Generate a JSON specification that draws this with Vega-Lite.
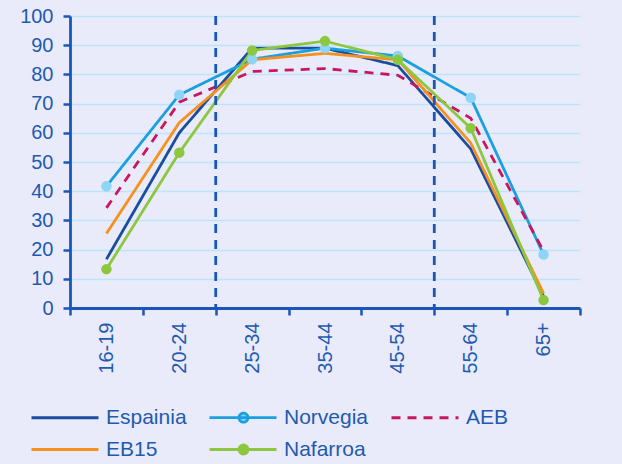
{
  "$schema": "https://vega.github.io/schema/vega-lite/v6.json",
  "width": 510,
  "height": 292,
  "autosize": {"type": "none"},
  "padding": {"left": 70, "top": 16, "right": 42, "bottom": 156},
  "background": "#e9ebfb",
  "config": {
    "view": {"stroke": null},
    "font": "Liberation Sans",
    "axis": {
      "labelFont": "Liberation Sans", "labelFontSize": 20, "labelColor": "#1f5aaf",
      "tickSize": 7, "tickWidth": 2.5, "tickColor": "#1a56b8", "domainColor": "#1a56b8", "domainWidth": 2.8,
      "title": null
    },
    "axisX": {"tickBand": "extent", "labelAngle": -90, "labelPadding": 7, "grid": false},
    "axisY": {"tickCount": 10, "labelOverlap": false, "labelPadding": 10, "grid": true, "gridColor": "#bde5f7", "gridWidth": 1.3}
  },
  "datasets": {
    "series": [
      {"age": "16-19", "series": "Espainia", "value": 16.7},
      {"age": "20-24", "series": "Espainia", "value": 60},
      {"age": "25-34", "series": "Espainia", "value": 89},
      {"age": "35-44", "series": "Espainia", "value": 89},
      {"age": "45-54", "series": "Espainia", "value": 83},
      {"age": "55-64", "series": "Espainia", "value": 54.5},
      {"age": "65+", "series": "Espainia", "value": 4},
      {"age": "16-19", "series": "Norvegia", "value": 41.7},
      {"age": "20-24", "series": "Norvegia", "value": 73},
      {"age": "25-34", "series": "Norvegia", "value": 85.2},
      {"age": "35-44", "series": "Norvegia", "value": 89},
      {"age": "45-54", "series": "Norvegia", "value": 86.3},
      {"age": "55-64", "series": "Norvegia", "value": 72},
      {"age": "65+", "series": "Norvegia", "value": 18.3},
      {"age": "16-19", "series": "AEB", "value": 34.3},
      {"age": "20-24", "series": "AEB", "value": 70.5},
      {"age": "25-34", "series": "AEB", "value": 81},
      {"age": "35-44", "series": "AEB", "value": 82},
      {"age": "45-54", "series": "AEB", "value": 79.7},
      {"age": "55-64", "series": "AEB", "value": 65},
      {"age": "65+", "series": "AEB", "value": 19.5},
      {"age": "16-19", "series": "EB15", "value": 25.5},
      {"age": "20-24", "series": "EB15", "value": 63.5},
      {"age": "25-34", "series": "EB15", "value": 85},
      {"age": "35-44", "series": "EB15", "value": 87.2},
      {"age": "45-54", "series": "EB15", "value": 85},
      {"age": "55-64", "series": "EB15", "value": 56.5},
      {"age": "65+", "series": "EB15", "value": 5},
      {"age": "16-19", "series": "Nafarroa", "value": 13.3},
      {"age": "20-24", "series": "Nafarroa", "value": 53.2},
      {"age": "25-34", "series": "Nafarroa", "value": 88.2},
      {"age": "35-44", "series": "Nafarroa", "value": 91.4},
      {"age": "45-54", "series": "Nafarroa", "value": 85},
      {"age": "55-64", "series": "Nafarroa", "value": 61.6},
      {"age": "65+", "series": "Nafarroa", "value": 2.7}
    ],
    "dividers": [
      {"age": "20-24"},
      {"age": "45-54"}
    ]
  },
  "layer": [
    {
      "data": {"name": "series"},
      "mark": {"type": "line", "strokeWidth": 2.8},
      "encoding": {
        "x": {
          "field": "age", "type": "nominal", "bandPosition": 0.5,
          "scale": {"type": "band", "domain": ["16-19","20-24","25-34","35-44","45-54","55-64","65+"], "paddingInner": 0, "paddingOuter": 0}
        },
        "y": {
          "field": "value", "type": "quantitative",
          "scale": {"domain": [0, 100], "nice": false}
        },
        "color": {
          "field": "series", "type": "nominal",
          "scale": {"domain": ["Espainia","Norvegia","AEB","EB15","Nafarroa"], "range": ["#1a4e9c","#1aa0e0","#c8175d","#f7901e","#8dc63f"]},
          "legend": {
            "orient": "none", "legendX": -40, "legendY": 390, "direction": "horizontal", "columns": 3,
            "title": null, "labelFont": "Liberation Sans", "labelFontSize": 21, "labelColor": "#1f5aaf",
            "symbolType": "stroke", "symbolSize": 400, "symbolStrokeWidth": 2.8, "labelOffset": 53, "columnPadding": 16, "rowPadding": 10,
            "encode": {
              "symbols": {
                "update": {
                  "shape": {"signal": "datum.value === 'Norvegia' || datum.value === 'Nafarroa' ? 'M-1,0H5.7M2.85,0A0.45,0.45,0,1,1,1.95,0A0.45,0.45,0,1,1,2.85,0Z' : 'M-1,0H5.7'"},
                  "fill": {"signal": "datum.value === 'Norvegia' ? '#8ed4f5' : datum.value === 'Nafarroa' ? '#8dc63f' : 'transparent'"}
                }
              }
            }
          }
        },
        "strokeDash": {
          "field": "series", "type": "nominal",
          "scale": {"domain": ["Espainia","Norvegia","AEB","EB15","Nafarroa"], "range": [[1,0],[1,0],[9,7],[1,0],[1,0]]}
        }
      }
    },
    {
      "data": {"name": "series"},
      "transform": [{"filter": "datum.series === 'Norvegia' || datum.series === 'Nafarroa'"}],
      "mark": {"type": "point", "filled": true, "opacity": 1, "size": 110},
      "encoding": {
        "x": {"field": "age", "type": "nominal", "bandPosition": 0.5},
        "y": {"field": "value", "type": "quantitative"},
        "fill": {
          "field": "series", "type": "nominal",
          "scale": {"domain": ["Norvegia","Nafarroa"], "range": ["#8ed4f5","#8dc63f"]},
          "legend": null
        }
      }
    },
    {
      "data": {"name": "dividers"},
      "mark": {"type": "rule", "color": "#1a56b8", "strokeWidth": 2.8, "strokeDash": [9, 7]},
      "encoding": {
        "x": {"field": "age", "type": "nominal", "bandPosition": 1}
      }
    }
  ]
}
